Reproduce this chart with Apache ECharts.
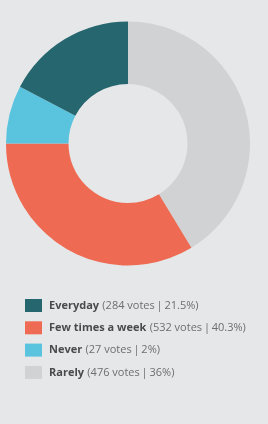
<!DOCTYPE html>
<html>
<head>
<meta charset="utf-8">
<script src="https://cdn.jsdelivr.net/npm/echarts@6/dist/echarts.min.js"></script>
<style>
  html, body { margin: 0; padding: 0; background: #e6e7e8; }
  #chart { width: 268px; height: 424px; }
</style>
</head>
<body>
<div id="chart"></div>
<script>
// slices clockwise from 12 o'clock, sizes
const sliceNames = ['Rarely', 'Few times a week', 'Never', 'Everyday']
const sliceValues = [41.3, 33.7, 7.7, 17.3]
const sliceColors = ['#d1d2d4', '#ee6a52', '#5ac4de', '#26666f']

// legend rows, in the order shown
const legendNames = ['Everyday', 'Few times a week', 'Never', 'Rarely']
const legendVotes = ['284 votes', '532 votes', '27 votes', '476 votes']
const legendPct = ['21.5%', '40.3%', '2%', '36%']

const chart = echarts.init(document.getElementById('chart'))

const option = {
  backgroundColor: '#e6e7e8',
  animation: false,
  legend: {
    orient: 'vertical',
    left: 25,
    top: 299,
    padding: 0,
    icon: 'rect',
    itemWidth: 17,
    itemHeight: 13,
    itemGap: 9.3,
    data: legendNames,
    formatter: (name) => {
      const i = legendNames.indexOf(name)
      return '{b|' + name + '} {n|(' + legendVotes[i] + '\u2009|\u2009' + legendPct[i] + ')}'
    },
    textStyle: {
      padding: [0, 0, 0, 2],
      rich: {
        b: { fontFamily: 'Open Sans', fontSize: 11, fontWeight: 'bold', color: '#4a4a4c' },
        n: { fontFamily: 'Open Sans', fontSize: 11, color: '#6d6e70' },
      },
    },
  },
  series: [
    {
      type: 'pie',
      center: [128, 143.5],
      radius: [59.5, 122],
      startAngle: 90,
      clockwise: true,
      label: { show: false },
      labelLine: { show: false },
      emphasis: { disabled: true },
      itemStyle: { borderWidth: 0 },
      data: sliceNames.map((name, i) => ({
        name,
        value: sliceValues[i],
        itemStyle: { color: sliceColors[i] },
      })),
    },
  ],
}

chart.setOption(option)
</script>
</body>
</html>
